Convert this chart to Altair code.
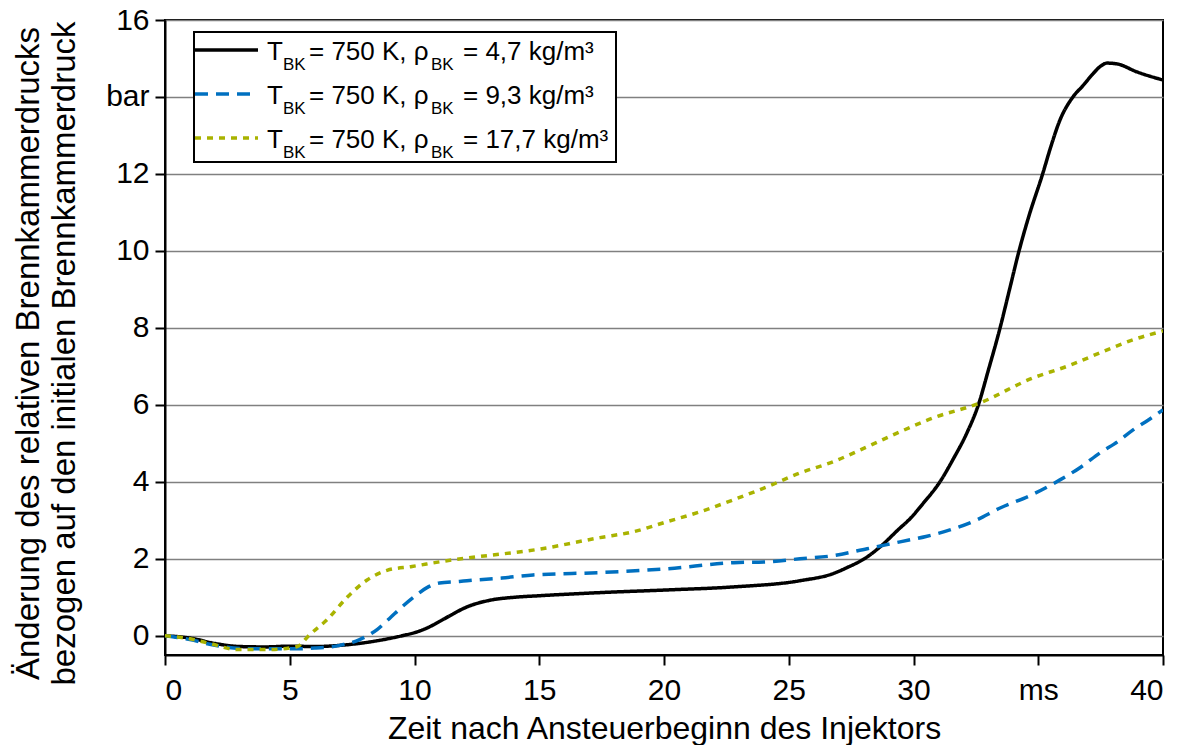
import altair as alt
import pandas as pd

# Measured pressure traces (time in ms, pressure change in bar)
t_47 = [0, 1, 2, 3, 4, 5, 6, 7, 8, 9, 9.5, 10, 10.5, 11, 11.5, 12, 13, 14, 15,
        17.4, 20.1, 22.8, 25.45, 26.8, 27.3, 28.1, 28.66, 29.46, 29.8, 30.4,
        31.06, 31.6, 32.14, 32.6, 33.0, 33.47, 33.85, 34.23, 34.6, 35.19, 35.5,
        35.87, 36.39, 36.8, 37.19, 37.5, 37.75, 38.15, 38.96, 40]
p_47 = [0, -0.06, -0.2, -0.28, -0.29, -0.27, -0.28, -0.25, -0.18, -0.07, 0.0,
        0.08, 0.2, 0.37, 0.55, 0.72, 0.92, 1.0, 1.04,
        1.12, 1.19, 1.27, 1.43, 1.62, 1.76, 2.03, 2.31, 2.8, 3.0, 3.45,
        4.0, 4.6, 5.27, 6.0, 6.9, 8.0, 9.0, 10.0, 10.85, 12.03, 12.7,
        13.4, 14.0, 14.3, 14.6, 14.8, 14.88, 14.86, 14.65, 14.44]

t_93 = [0, 1, 2, 3, 4, 5, 6, 7, 7.8, 8.5, 9, 9.5, 10, 10.5, 11, 11.8, 12.1,
        13.5, 14.75, 17.4, 20.1, 22.8, 24.1, 25.45, 26.77, 28.14, 29.46, 30.5,
        31.46, 32.5, 33.47, 34.7, 35.87, 36.7, 37.47, 38.2, 38.8, 39.4, 40]
p_93 = [0, -0.1, -0.25, -0.33, -0.34, -0.34, -0.32, -0.25, -0.1, 0.16, 0.45,
        0.75, 1.02, 1.25, 1.37, 1.41, 1.43,
        1.5, 1.58, 1.64, 1.74, 1.9, 1.92, 2.0, 2.08, 2.26, 2.44, 2.58,
        2.75, 3.0, 3.32, 3.65, 4.05, 4.38, 4.75, 5.05, 5.35, 5.6, 5.87]

t_177 = [0, 1, 1.8, 2.9, 4.2, 5.3, 5.8, 6.5, 7.3, 8.1, 8.9, 9.9, 11.3, 12.5,
         15, 17.43, 18.76, 20.1, 21.44, 22.77, 24.13, 25.45, 26.77, 28.14,
         29.46, 30.78, 32.59, 34.79, 36.15, 37.47, 38.8, 40]
p_177 = [0, -0.08, -0.2, -0.36, -0.36, -0.28, 0.03, 0.42, 1.0, 1.45, 1.7, 1.8,
         1.95, 2.05, 2.25, 2.55, 2.7, 2.96, 3.22, 3.53, 3.87, 4.23, 4.52, 4.91,
         5.3, 5.66, 6.03, 6.7, 7.0, 7.35, 7.69, 7.92]

series = ["4,7", "9,3", "17,7"]
colors = ["#000000", "#0070C0", "#A9B300"]
dashes = [[1, 0], [13, 8], [6, 6]]

x_ticks = list(range(0, 41, 5))
y_ticks = list(range(0, 17, 2))

FONT = "Liberation Sans"

frames = []
for name, t, p in [(series[0], t_47, p_47), (series[1], t_93, p_93), (series[2], t_177, p_177)]:
    frames.append(pd.DataFrame({"t": t, "p": p, "rho": name}))
df = pd.concat(frames, ignore_index=True)

x_enc = alt.X(
    "t:Q",
    scale=alt.Scale(domain=[0, 40], nice=False),
    axis=alt.Axis(
        values=x_ticks,
        labelExpr="datum.value == 35 ? 'ms' : datum.label",
        grid=False,
        tickSize=10, tickWidth=2, tickColor="black",
        domainColor="black", domainWidth=2,
        labelFontSize=30, labelPadding=10, labelColor="black",
        title="Zeit nach Ansteuerbeginn des Injektors",
        titleFontSize=32, titleFontWeight="normal", titleColor="black",
        titlePadding=8,
    ),
)
y_enc = alt.Y(
    "p:Q",
    scale=alt.Scale(domain=[-0.5, 16], nice=False),
    axis=alt.Axis(
        values=y_ticks,
        labelExpr="datum.value == 14 ? 'bar' : datum.label",
        grid=True, gridColor="#808080", gridWidth=1.5,
        tickSize=10, tickWidth=2, tickColor="black",
        domainColor="black", domainWidth=2,
        labelFontSize=30, labelPadding=6, labelColor="black",
        title=["Änderung des relativen Brennkammerdrucks",
               "bezogen auf den initialen Brennkammerdruck"],
        titleFontSize=33, titleFontWeight="normal", titleColor="black",
        titleLineHeight=36, titlePadding=24, titleY=333,
    ),
)

lines = alt.Chart(df).mark_line(strokeWidth=3.5, interpolate="monotone", clip=True).encode(
    x=x_enc,
    y=y_enc,
    color=alt.Color("rho:N", scale=alt.Scale(domain=series, range=colors), legend=None),
    strokeDash=alt.StrokeDash("rho:N", scale=alt.Scale(domain=series, range=dashes), legend=None),
    detail="rho:N",
)

# Legend box with line samples and subscripted labels
one = pd.DataFrame({"k": [0]})
box = alt.Chart(one).mark_rect(fill="white", stroke="black", strokeWidth=2).encode(
    x=alt.value(29), x2=alt.value(451), y=alt.value(12), y2=alt.value(142)
)

legend_layers = [box]
row_y = [30, 74, 118]
for i, name in enumerate(series):
    legend_layers.append(
        alt.Chart(one).mark_rule(color=colors[i], strokeWidth=3.5, strokeDash=dashes[i]).encode(
            x=alt.value(30), x2=alt.value(93), y=alt.value(row_y[i])
        )
    )
    base = row_y[i] + 10
    pieces = [
        ("T", 102, base, 26),
        ("BK", 118, base + 10, 17),
        ("= 750 K, ρ", 144, base, 26),
        ("BK", 266, base + 10, 17),
        (f"= {name} kg/m³", 298, base, 26),
    ]
    for txt, px, py, fs in pieces:
        legend_layers.append(
            alt.Chart(pd.DataFrame({"s": [txt]})).mark_text(
                align="left", baseline="alphabetic", fontSize=fs, font=FONT, color="black"
            ).encode(x=alt.value(px), y=alt.value(py), text="s:N")
        )

chart = alt.layer(lines, *legend_layers).properties(
    width=998,
    height=635,
    autosize=alt.AutoSizeParams(type="none"),
    padding={"left": 165, "top": 20, "right": 23, "bottom": 90},
    background="white",
).configure(font=FONT).configure_view(stroke="black", strokeWidth=2)

chart.save("out.html", embed_options={"renderer": "svg", "actions": False})
